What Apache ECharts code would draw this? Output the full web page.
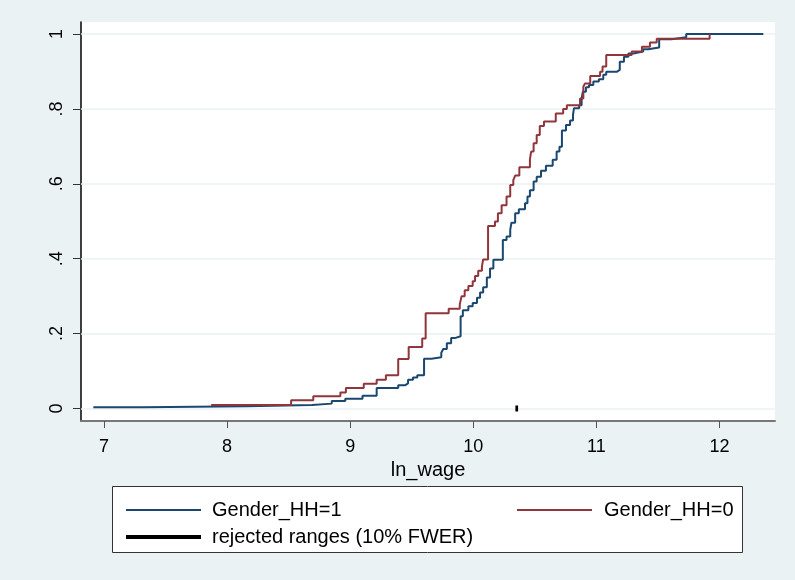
<!DOCTYPE html>
<html>
<head>
<meta charset="utf-8">
<script src="https://cdn.jsdelivr.net/npm/echarts@6/dist/echarts.min.js"></script>
<style>
html,body{margin:0;padding:0;background:#EAF2F3;}
#c{width:795px;height:580px;}
</style>
</head>
<body>
<div id="c"></div>
<script>
// ---- data ----
const seriesNames = ['Gender_HH=1', 'Gender_HH=0', 'rejected ranges (10% FWER)'];
const xTicks = [7, 8, 9, 10, 11, 12];
const yTicks = [0, 0.2, 0.4, 0.6, 0.8, 1];
const yTickLabels = ['0', '.2', '.4', '.6', '.8', '1'];
const xAxisTitle = 'ln_wage';
const xRange = [6.813, 12.451];
const yRange = [-0.0334, 1.032];

// Gender_HH=1 (ECDF jump points)
const blueX = [6.913, 7.32, 8.16, 8.69, 8.85, 8.96, 9.10, 9.215, 9.39, 9.445, 9.47, 9.51, 9.545, 9.60,
  9.66, 9.74, 9.756, 9.785, 9.82, 9.85, 9.897, 9.915, 9.96, 9.995, 10.03, 10.055, 10.08, 10.11, 10.136,
  10.163, 10.24, 10.27, 10.30, 10.31, 10.34, 10.37, 10.42, 10.44, 10.46, 10.49, 10.515, 10.55, 10.59,
  10.645, 10.677, 10.70, 10.72, 10.753, 10.786, 10.81, 10.818, 10.86, 10.88, 10.89, 10.915, 10.94,
  10.975, 11.02, 11.056, 11.08, 11.165, 11.19, 11.224, 11.26, 11.30, 11.38, 11.42, 11.51, 11.61, 11.73, 12.356];
const blueY = [0.003, 0.006, 0.009, 0.013, 0.020, 0.026, 0.034, 0.055, 0.062, 0.067, 0.077, 0.083, 0.089, 0.133,
  0.137, 0.149, 0.159, 0.174, 0.188, 0.193, 0.246, 0.262, 0.273, 0.282, 0.296, 0.310, 0.324, 0.350, 0.374,
  0.397, 0.450, 0.459, 0.477, 0.496, 0.521, 0.532, 0.548, 0.566, 0.583, 0.606, 0.619, 0.635, 0.648,
  0.664, 0.686, 0.699, 0.742, 0.757, 0.769, 0.784, 0.802, 0.810, 0.828, 0.846, 0.858, 0.864,
  0.873, 0.879, 0.891, 0.899, 0.904, 0.926, 0.939, 0.948, 0.953, 0.959, 0.964, 0.986, 0.991, 1.0, 1.0];

// Gender_HH=0 (ECDF jump points)
const redX = [7.87, 8.52, 8.70, 8.92, 8.965, 9.11, 9.215, 9.29, 9.39, 9.475, 9.585, 9.613, 9.80, 9.89,
  9.905, 9.93, 9.96, 9.995, 10.014, 10.04, 10.07, 10.08, 10.12, 10.176, 10.20, 10.23, 10.27, 10.30,
  10.325, 10.34, 10.374, 10.46, 10.47, 10.49, 10.515, 10.54, 10.574, 10.67, 10.73, 10.76, 10.867,
  10.894, 10.907, 10.95, 11.03, 11.05, 11.08, 11.287, 11.37, 11.435, 11.49, 11.92];
const redY = [0.009, 0.022, 0.033, 0.043, 0.055, 0.066, 0.077, 0.089, 0.132, 0.164, 0.187, 0.254, 0.266, 0.278,
  0.300, 0.316, 0.327, 0.340, 0.354, 0.368, 0.379, 0.398, 0.487, 0.499, 0.521, 0.543, 0.566, 0.597,
  0.610, 0.622, 0.644, 0.665, 0.686, 0.708, 0.730, 0.754, 0.766, 0.788, 0.800, 0.810, 0.828,
  0.859, 0.868, 0.888, 0.899, 0.913, 0.944, 0.953, 0.966, 0.977, 0.987, 1.0];

// rejected range
const rejX = [10.342, 10.364];
const rejY = [0, 0];

// ---- chart ----
const FONT = '"Liberation Sans", Arial, sans-serif';
const zip = (xs, ys) => xs.map((x, i) => [x, ys[i]]);
const chart = echarts.init(document.getElementById('c'), null, {renderer: 'canvas'});
const option = {
  animation: false,
  backgroundColor: '#EAF2F3',
  textStyle: {fontFamily: FONT},
  grid: {left: 81, right: 20, top: 22, bottom: 159, show: true, backgroundColor: '#ffffff', borderWidth: 0},
  xAxis: {
    type: 'value', min: xRange[0], max: xRange[1],
    name: xAxisTitle, nameLocation: 'middle', nameGap: 34,
    nameTextStyle: {fontSize: 20, color: '#000', fontFamily: FONT},
    axisLine: {show: true, onZero: false, lineStyle: {color: '#777', width: 2}},
    axisTick: {show: true, length: 7, customValues: xTicks, lineStyle: {color: '#555', width: 1}},
    axisLabel: {customValues: xTicks, fontSize: 18, color: '#000', margin: 17, fontFamily: FONT},
    splitLine: {show: false}
  },
  yAxis: {
    type: 'value', min: yRange[0], max: yRange[1],
    axisLine: {show: true, onZero: false, lineStyle: {color: '#000', width: 1.5}},
    axisTick: {show: true, length: 8, customValues: yTicks, lineStyle: {color: '#333', width: 1}},
    axisLabel: {
      customValues: yTicks, rotate: 90, fontSize: 18, color: '#000', margin: 15, fontFamily: FONT,
      formatter: v => { const i = yTicks.findIndex(t => Math.abs(t - v) < 1e-6); return i >= 0 ? yTickLabels[i] : ''; }
    },
    splitLine: {show: false}
  },
  legend: [
    {data: [seriesNames[0]], left: 121, top: 495, itemWidth: 75, itemHeight: 2, icon: 'rect',
      textStyle: {fontSize: 20, color: '#000', fontFamily: FONT, padding: [0, 0, 0, 6]}, z: 10},
    {data: [seriesNames[1]], left: 512, top: 495, itemWidth: 75, itemHeight: 2, icon: 'rect',
      textStyle: {fontSize: 20, color: '#000', fontFamily: FONT, padding: [0, 0, 0, 7]}, z: 10},
    {data: [seriesNames[2]], left: 121, top: 522, itemWidth: 75, itemHeight: 4, icon: 'rect',
      textStyle: {fontSize: 20, color: '#000', fontFamily: FONT, padding: [0, 0, 0, 6]}, z: 10}
  ],
  graphic: [
    {type: 'rect', left: 112, top: 486, z: 1, shape: {width: 630, height: 66},
      style: {fill: '#ffffff', stroke: '#333', lineWidth: 1}}
  ],
  series: [
    {
      type: 'lines', name: '_grid', coordinateSystem: 'cartesian2d', silent: true, z: 1,
      lineStyle: {color: '#EAF2F3', width: 1.5, opacity: 1, curveness: 0},
      data: yTicks.map(t => ({coords: [[xRange[0], t], [xRange[1], t]]}))
    },
    {type: 'line', name: seriesNames[0], data: zip(blueX, blueY), step: 'end', showSymbol: false, symbol: 'none',
      color: '#1A476F', lineStyle: {color: '#1A476F', width: 2}, z: 3},
    {type: 'line', name: seriesNames[1], data: zip(redX, redY), step: 'end', showSymbol: false, symbol: 'none',
      color: '#90353B', lineStyle: {color: '#90353B', width: 2}, z: 4},
    {type: 'line', name: seriesNames[2], data: zip(rejX, rejY), showSymbol: false, symbol: 'none',
      color: '#000', lineStyle: {color: '#000', width: 6, cap: 'butt'}, z: 5}
  ]
};
chart.setOption(option);
</script>
</body>
</html>
